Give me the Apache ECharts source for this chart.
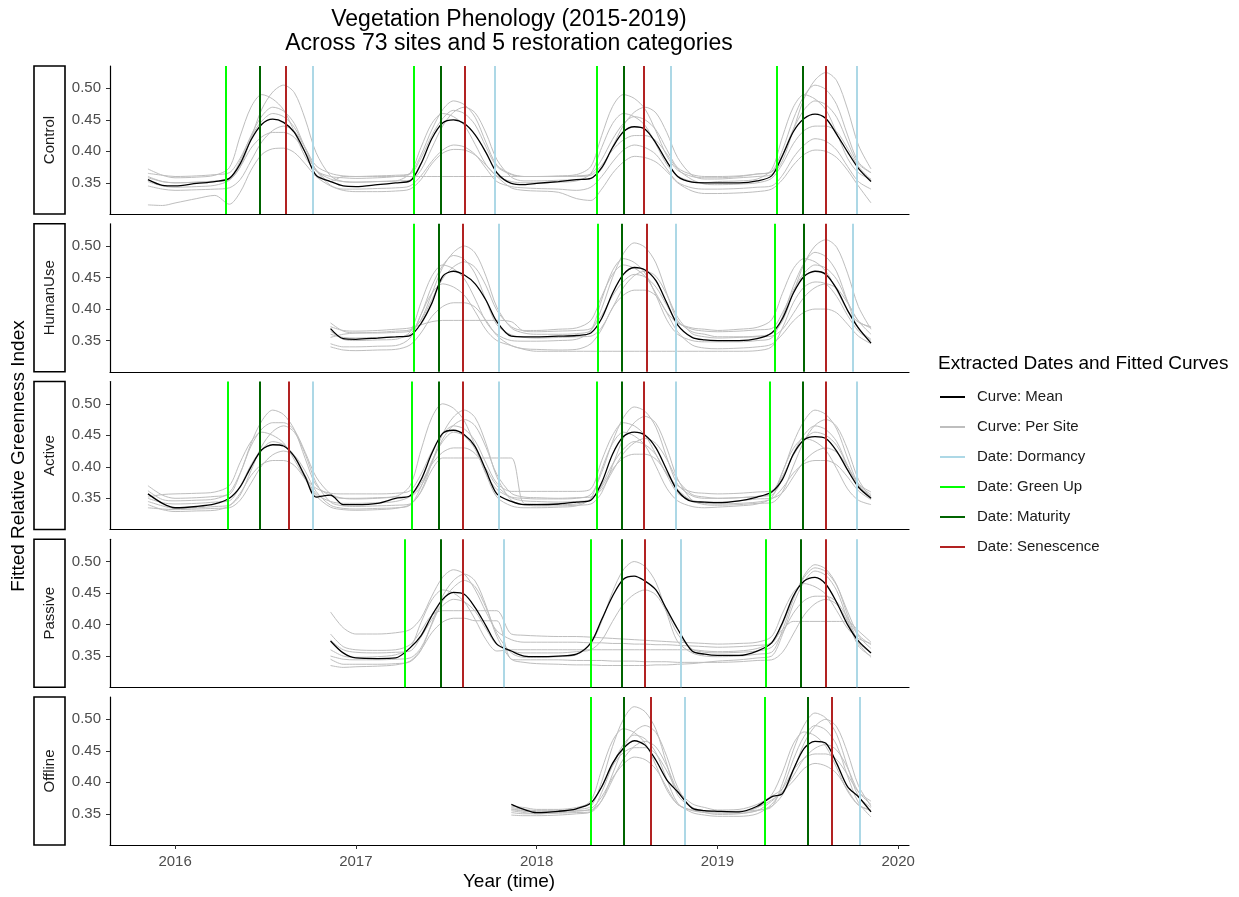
<!DOCTYPE html>
<html>
<head>
<meta charset="utf-8">
<script src="https://cdn.jsdelivr.net/npm/echarts@6/dist/echarts.min.js"></script>
<style>
  html, body { margin: 0; padding: 0; background: #ffffff; }
  #chart { width: 1239px; height: 897px; }
</style>
</head>
<body>
<div id="chart"></div>
<script>
// ---- data -------------------------------------------------------------
const categories = ['Control', 'HumanUse', 'Active', 'Passive', 'Offline'];

// sample times (decimal years) shared by every fitted curve
const sampleTimes = [
  2015.85, 2015.93,
  2016.00, 2016.12, 2016.22, 2016.30, 2016.36, 2016.42, 2016.48, 2016.54, 2016.60, 2016.66, 2016.72, 2016.78, 2016.86, 2016.93,
  2017.00, 2017.12, 2017.22, 2017.30, 2017.36, 2017.42, 2017.48, 2017.54, 2017.60, 2017.66, 2017.72, 2017.78, 2017.86, 2017.93,
  2018.00, 2018.12, 2018.22, 2018.30, 2018.36, 2018.42, 2018.48, 2018.54, 2018.60, 2018.66, 2018.72, 2018.78, 2018.86, 2018.93,
  2019.00, 2019.12, 2019.22, 2019.30, 2019.36, 2019.42, 2019.48, 2019.54, 2019.60, 2019.66, 2019.72, 2019.78, 2019.85
];

// first sample time of each category's record
const recordStart = [2015.85, 2016.86, 2015.85, 2016.86, 2017.86];

const xTickYears = [2016, 2017, 2018, 2019, 2020];
const yTickValues = [0.35, 0.40, 0.45, 0.50];

// mean fitted curve per category
const controlMean = [0.355, 0.346,
  0.345, 0.349, 0.352, 0.357, 0.380, 0.418, 0.443, 0.451, 0.446, 0.430, 0.398, 0.362, 0.352, 0.345,
  0.344, 0.347, 0.350, 0.353, 0.380, 0.420, 0.445, 0.450, 0.444, 0.426, 0.398, 0.366, 0.349, 0.347,
  0.349, 0.352, 0.355, 0.357, 0.374, 0.406, 0.431, 0.439, 0.435, 0.413, 0.384, 0.360, 0.351, 0.350,
  0.350, 0.350, 0.353, 0.361, 0.393, 0.431, 0.452, 0.459, 0.452, 0.427, 0.399, 0.373, 0.352];
const humanUseMean = [0.369, 0.353,
  0.352, 0.354, 0.356, 0.358, 0.377, 0.409, 0.452, 0.460, 0.454, 0.440, 0.414, 0.380, 0.357, 0.356,
  0.356, 0.357, 0.358, 0.362, 0.385, 0.425, 0.455, 0.466, 0.462, 0.445, 0.410, 0.375, 0.355, 0.351,
  0.350, 0.350, 0.353, 0.362, 0.385, 0.425, 0.452, 0.460, 0.455, 0.432, 0.398, 0.370, 0.346];
const activeMean = [0.357, 0.342,
  0.335, 0.337, 0.341, 0.350, 0.368, 0.400, 0.427, 0.435, 0.433, 0.416, 0.384, 0.352, 0.355, 0.340,
  0.340, 0.342, 0.350, 0.354, 0.379, 0.421, 0.453, 0.458, 0.451, 0.432, 0.394, 0.357, 0.345, 0.340,
  0.340, 0.341, 0.344, 0.347, 0.375, 0.420, 0.448, 0.455, 0.450, 0.430, 0.395, 0.362, 0.345, 0.344,
  0.343, 0.346, 0.352, 0.360, 0.380, 0.420, 0.443, 0.448, 0.445, 0.425, 0.395, 0.368, 0.350];
const passiveMean = [0.374, 0.355,
  0.347, 0.346, 0.347, 0.363, 0.382, 0.414, 0.440, 0.451, 0.448, 0.427, 0.398, 0.369, 0.358, 0.350,
  0.349, 0.350, 0.353, 0.371, 0.408, 0.445, 0.472, 0.477, 0.469, 0.455, 0.424, 0.393, 0.358, 0.353,
  0.351, 0.351, 0.358, 0.371, 0.403, 0.445, 0.469, 0.475, 0.464, 0.435, 0.400, 0.374, 0.355];
const offlineMean = [0.365, 0.357,
  0.352, 0.354, 0.358, 0.367, 0.393, 0.430, 0.454, 0.466, 0.459, 0.435, 0.404, 0.385, 0.359, 0.355,
  0.354, 0.353, 0.362, 0.377, 0.382, 0.420, 0.454, 0.465, 0.462, 0.430, 0.393, 0.377, 0.353];

// fitted curves of individual sites
const controlSites = [
  [0.372, 0.362,
   0.358, 0.359, 0.362, 0.374, 0.424, 0.470, 0.490, 0.483, 0.466, 0.431, 0.391, 0.369, 0.360, 0.358,
   0.357, 0.358, 0.360, 0.365, 0.394, 0.434, 0.466, 0.480, 0.474, 0.454, 0.414, 0.378, 0.364, 0.360,
   0.360, 0.361, 0.363, 0.376, 0.425, 0.471, 0.490, 0.484, 0.467, 0.432, 0.393, 0.370, 0.360, 0.358,
   0.358, 0.360, 0.364, 0.368, 0.402, 0.451, 0.488, 0.505, 0.498, 0.474, 0.426, 0.383, 0.366],
  [0.360, 0.352,
   0.350, 0.351, 0.352, 0.355, 0.375, 0.421, 0.467, 0.494, 0.505, 0.493, 0.451, 0.398, 0.361, 0.352,
   0.351, 0.352, 0.353, 0.354, 0.370, 0.405, 0.440, 0.462, 0.470, 0.461, 0.429, 0.387, 0.359, 0.353,
   0.353, 0.354, 0.355, 0.357, 0.372, 0.407, 0.441, 0.462, 0.470, 0.461, 0.430, 0.390, 0.362, 0.356,
   0.356, 0.358, 0.360, 0.363, 0.385, 0.434, 0.484, 0.513, 0.525, 0.512, 0.467, 0.410, 0.372],
  [0.315, 0.314,
   0.318, 0.325, 0.330, 0.316, 0.335, 0.370, 0.395, 0.404, 0.405, 0.398, 0.380, 0.360, 0.345, 0.338,
   0.336, 0.336, 0.337, 0.340, 0.355, 0.380, 0.397, 0.403, 0.402, 0.394, 0.378, 0.360, 0.342, 0.338,
   0.337, 0.335, 0.325, 0.322, 0.340, 0.365, 0.383, 0.392, 0.390, 0.383, 0.368, 0.350, 0.337, 0.333,
   0.333, 0.334, 0.336, 0.340, 0.355, 0.378, 0.395, 0.402, 0.400, 0.390, 0.370, 0.345, 0.318],
  [0.365, 0.362,
   0.360, 0.361, 0.363, 0.366, 0.389, 0.423, 0.448, 0.460, 0.455, 0.438, 0.406, 0.377, 0.365, 0.361,
   0.360, 0.361, 0.362, 0.364, 0.389, 0.425, 0.452, 0.465, 0.460, 0.442, 0.407, 0.376, 0.363, 0.360,
   0.360, 0.360, 0.361, 0.364, 0.387, 0.419, 0.444, 0.455, 0.450, 0.434, 0.403, 0.374, 0.363, 0.360,
   0.360, 0.361, 0.364, 0.367, 0.395, 0.435, 0.466, 0.480, 0.474, 0.454, 0.415, 0.380, 0.366],
  [0.352, 0.345,
   0.343, 0.344, 0.346, 0.354, 0.375, 0.405, 0.423, 0.430, 0.430, 0.422, 0.398, 0.371, 0.352, 0.360,
   0.360, 0.360, 0.360, 0.360, 0.360, 0.360, 0.360, 0.360, 0.360, 0.360, 0.360, 0.360, 0.360, 0.360,
   0.360, 0.360, 0.360, 0.362, 0.378, 0.402, 0.418, 0.425, 0.425, 0.417, 0.396, 0.372, 0.355, 0.348,
   0.347, 0.348, 0.350, 0.357, 0.380, 0.412, 0.433, 0.440, 0.440, 0.431, 0.405, 0.376, 0.355],
  [0.345, 0.340,
   0.338, 0.339, 0.340, 0.342, 0.355, 0.385, 0.415, 0.433, 0.440, 0.432, 0.405, 0.370, 0.346, 0.340,
   0.340, 0.341, 0.342, 0.345, 0.361, 0.384, 0.402, 0.410, 0.407, 0.395, 0.373, 0.352, 0.344, 0.342,
   0.341, 0.340, 0.338, 0.343, 0.360, 0.383, 0.402, 0.410, 0.406, 0.395, 0.372, 0.351, 0.342, 0.340,
   0.340, 0.341, 0.343, 0.345, 0.362, 0.390, 0.410, 0.420, 0.416, 0.402, 0.376, 0.352, 0.340],
  [0.358, 0.352,
   0.350, 0.351, 0.353, 0.357, 0.385, 0.425, 0.456, 0.470, 0.464, 0.444, 0.405, 0.370, 0.356, 0.352,
   0.351, 0.352, 0.353, 0.365, 0.406, 0.444, 0.460, 0.455, 0.441, 0.411, 0.379, 0.361, 0.352, 0.350,
   0.350, 0.351, 0.353, 0.365, 0.406, 0.444, 0.460, 0.455, 0.441, 0.411, 0.379, 0.361, 0.352, 0.350,
   0.352, 0.353, 0.356, 0.371, 0.423, 0.470, 0.490, 0.483, 0.466, 0.429, 0.389, 0.366, 0.356]
];
const humanUseSites = [
  [0.378, 0.365,
   0.362, 0.362, 0.363, 0.365, 0.383, 0.424, 0.466, 0.490, 0.500, 0.489, 0.452, 0.403, 0.370, 0.362,
   0.360, 0.360, 0.361, 0.366, 0.401, 0.450, 0.488, 0.505, 0.498, 0.473, 0.425, 0.382, 0.364, 0.360,
   0.356, 0.356, 0.357, 0.361, 0.381, 0.426, 0.472, 0.500, 0.510, 0.498, 0.457, 0.404, 0.368],
  [0.365, 0.352,
   0.350, 0.351, 0.352, 0.364, 0.410, 0.452, 0.470, 0.464, 0.448, 0.416, 0.380, 0.360, 0.350, 0.349,
   0.349, 0.350, 0.352, 0.366, 0.415, 0.461, 0.480, 0.474, 0.457, 0.422, 0.383, 0.360, 0.350, 0.348,
   0.348, 0.348, 0.350, 0.354, 0.388, 0.436, 0.473, 0.490, 0.483, 0.459, 0.412, 0.369, 0.352],
  [0.340, 0.335,
   0.334, 0.335, 0.336, 0.343, 0.362, 0.388, 0.404, 0.410, 0.410, 0.403, 0.382, 0.358, 0.342, 0.337,
   0.336, 0.335, 0.336, 0.345, 0.368, 0.402, 0.422, 0.430, 0.430, 0.421, 0.394, 0.364, 0.343, 0.338,
   0.337, 0.338, 0.340, 0.344, 0.360, 0.381, 0.395, 0.400, 0.400, 0.394, 0.376, 0.357, 0.345],
  [0.372, 0.366,
   0.365, 0.366, 0.368, 0.370, 0.375, 0.380, 0.382, 0.382, 0.382, 0.382, 0.382, 0.382, 0.380, 0.365,
   0.364, 0.365, 0.366, 0.369, 0.390, 0.421, 0.444, 0.455, 0.451, 0.435, 0.406, 0.379, 0.368, 0.365,
   0.364, 0.365, 0.367, 0.369, 0.394, 0.430, 0.457, 0.470, 0.465, 0.447, 0.412, 0.381, 0.370],
  [0.360, 0.355,
   0.354, 0.355, 0.356, 0.360, 0.391, 0.436, 0.469, 0.485, 0.479, 0.456, 0.414, 0.375, 0.359, 0.355,
   0.354, 0.355, 0.356, 0.357, 0.371, 0.402, 0.434, 0.453, 0.460, 0.452, 0.423, 0.387, 0.361, 0.356,
   0.354, 0.355, 0.356, 0.357, 0.368, 0.393, 0.419, 0.434, 0.440, 0.433, 0.410, 0.381, 0.360],
  [0.345, 0.340,
   0.340, 0.341, 0.342, 0.354, 0.391, 0.425, 0.440, 0.435, 0.422, 0.396, 0.367, 0.350, 0.342, 0.336,
   0.333, 0.333, 0.333, 0.333, 0.333, 0.333, 0.333, 0.333, 0.333, 0.333, 0.333, 0.333, 0.333, 0.333,
   0.333, 0.333, 0.334, 0.340, 0.370, 0.410, 0.435, 0.443, 0.440, 0.420, 0.390, 0.365, 0.350],
  [0.355, 0.360,
   0.362, 0.363, 0.365, 0.367, 0.382, 0.415, 0.448, 0.467, 0.475, 0.466, 0.437, 0.398, 0.372, 0.366,
   0.366, 0.368, 0.370, 0.382, 0.420, 0.455, 0.470, 0.465, 0.452, 0.425, 0.395, 0.378, 0.370, 0.368,
   0.366, 0.368, 0.371, 0.383, 0.425, 0.464, 0.480, 0.475, 0.460, 0.430, 0.398, 0.379, 0.372]
];
const activeSites = [
  [0.370, 0.355,
   0.350, 0.351, 0.353, 0.356, 0.389, 0.437, 0.473, 0.490, 0.483, 0.459, 0.413, 0.371, 0.354, 0.350,
   0.350, 0.351, 0.353, 0.370, 0.426, 0.478, 0.500, 0.493, 0.473, 0.433, 0.389, 0.364, 0.352, 0.350,
   0.349, 0.349, 0.350, 0.356, 0.391, 0.440, 0.478, 0.495, 0.488, 0.463, 0.415, 0.372, 0.354, 0.350,
   0.350, 0.351, 0.353, 0.358, 0.391, 0.438, 0.473, 0.490, 0.483, 0.460, 0.414, 0.373, 0.356],
  [0.345, 0.338,
   0.334, 0.335, 0.337, 0.339, 0.355, 0.394, 0.433, 0.456, 0.465, 0.455, 0.420, 0.375, 0.344, 0.338,
   0.337, 0.338, 0.339, 0.341, 0.361, 0.406, 0.452, 0.479, 0.490, 0.478, 0.437, 0.384, 0.347, 0.340,
   0.338, 0.338, 0.339, 0.341, 0.359, 0.402, 0.445, 0.470, 0.480, 0.469, 0.430, 0.381, 0.347, 0.340,
   0.339, 0.340, 0.342, 0.343, 0.360, 0.401, 0.441, 0.466, 0.475, 0.464, 0.428, 0.380, 0.350],
  [0.340, 0.332,
   0.329, 0.330, 0.331, 0.338, 0.358, 0.386, 0.404, 0.410, 0.410, 0.402, 0.380, 0.354, 0.336, 0.332,
   0.331, 0.332, 0.334, 0.340, 0.360, 0.395, 0.414, 0.414, 0.414, 0.414, 0.414, 0.414, 0.414, 0.342,
   0.341, 0.340, 0.341, 0.348, 0.368, 0.396, 0.414, 0.420, 0.420, 0.412, 0.390, 0.364, 0.346, 0.342,
   0.341, 0.342, 0.344, 0.349, 0.366, 0.390, 0.405, 0.410, 0.410, 0.403, 0.384, 0.362, 0.348],
  [0.352, 0.356,
   0.357, 0.358, 0.360, 0.370, 0.407, 0.440, 0.455, 0.450, 0.438, 0.411, 0.382, 0.366, 0.358, 0.357,
   0.357, 0.357, 0.358, 0.362, 0.388, 0.424, 0.452, 0.465, 0.460, 0.441, 0.406, 0.374, 0.361, 0.361,
   0.361, 0.361, 0.361, 0.365, 0.410, 0.450, 0.470, 0.465, 0.450, 0.420, 0.388, 0.370, 0.360, 0.358,
   0.357, 0.358, 0.360, 0.362, 0.385, 0.418, 0.443, 0.455, 0.450, 0.434, 0.402, 0.373, 0.360],
  [0.350, 0.343,
   0.341, 0.342, 0.344, 0.346, 0.369, 0.403, 0.428, 0.440, 0.435, 0.418, 0.386, 0.357, 0.345, 0.342,
   0.342, 0.343, 0.345, 0.353, 0.374, 0.404, 0.423, 0.430, 0.430, 0.421, 0.397, 0.370, 0.351, 0.346,
   0.345, 0.344, 0.345, 0.348, 0.371, 0.404, 0.428, 0.440, 0.435, 0.419, 0.387, 0.358, 0.347, 0.344,
   0.344, 0.346, 0.349, 0.350, 0.359, 0.384, 0.409, 0.424, 0.430, 0.423, 0.401, 0.371, 0.352],
  [0.335, 0.333,
   0.332, 0.333, 0.334, 0.335, 0.347, 0.374, 0.402, 0.419, 0.425, 0.418, 0.393, 0.361, 0.339, 0.334,
   0.333, 0.334, 0.335, 0.339, 0.368, 0.409, 0.440, 0.455, 0.449, 0.428, 0.388, 0.352, 0.338, 0.335,
   0.335, 0.336, 0.338, 0.350, 0.396, 0.437, 0.455, 0.449, 0.434, 0.401, 0.366, 0.346, 0.337, 0.335,
   0.336, 0.338, 0.341, 0.351, 0.392, 0.429, 0.445, 0.440, 0.426, 0.397, 0.365, 0.347, 0.340],
  [0.362, 0.348,
   0.346, 0.347, 0.349, 0.359, 0.390, 0.433, 0.460, 0.470, 0.470, 0.458, 0.423, 0.384, 0.357, 0.350,
   0.349, 0.350, 0.352, 0.353, 0.369, 0.406, 0.444, 0.466, 0.475, 0.465, 0.431, 0.388, 0.358, 0.352,
   0.351, 0.350, 0.351, 0.352, 0.364, 0.393, 0.421, 0.438, 0.445, 0.437, 0.412, 0.379, 0.356, 0.352,
   0.350, 0.351, 0.353, 0.355, 0.382, 0.421, 0.451, 0.465, 0.459, 0.440, 0.402, 0.367, 0.354]
];
const passiveSites = [
  [0.420, 0.395,
   0.385, 0.385, 0.387, 0.392, 0.410, 0.445, 0.475, 0.487, 0.480, 0.455, 0.420, 0.390, 0.376, 0.372,
   0.372, 0.372, 0.372, 0.371, 0.371, 0.370, 0.370, 0.369, 0.369, 0.368, 0.368, 0.367, 0.366, 0.365,
   0.364, 0.365, 0.367, 0.370, 0.400, 0.443, 0.475, 0.490, 0.484, 0.462, 0.421, 0.384, 0.368],
  [0.350, 0.345,
   0.344, 0.344, 0.345, 0.347, 0.363, 0.400, 0.437, 0.459, 0.470, 0.460, 0.427, 0.386, 0.355, 0.348,
   0.348, 0.349, 0.352, 0.370, 0.405, 0.452, 0.487, 0.500, 0.492, 0.467, 0.418, 0.373, 0.355, 0.350,
   0.349, 0.350, 0.353, 0.356, 0.391, 0.440, 0.478, 0.495, 0.488, 0.463, 0.415, 0.372, 0.355],
  [0.375, 0.360,
   0.356, 0.355, 0.356, 0.358, 0.380, 0.408, 0.430, 0.440, 0.436, 0.421, 0.393, 0.368, 0.358, 0.355,
   0.355, 0.355, 0.357, 0.360, 0.375, 0.405, 0.432, 0.448, 0.455, 0.447, 0.420, 0.385, 0.361, 0.356,
   0.355, 0.356, 0.358, 0.364, 0.387, 0.418, 0.438, 0.445, 0.445, 0.436, 0.411, 0.382, 0.362],
  [0.385, 0.365,
   0.360, 0.359, 0.360, 0.368, 0.390, 0.415, 0.422, 0.422, 0.422, 0.422, 0.422, 0.422, 0.385, 0.383,
   0.382, 0.381, 0.381, 0.380, 0.379, 0.378, 0.377, 0.376, 0.375, 0.374, 0.373, 0.372, 0.371, 0.370,
   0.369, 0.370, 0.372, 0.381, 0.418, 0.451, 0.465, 0.460, 0.448, 0.422, 0.394, 0.378, 0.370],
  [0.335, 0.332,
   0.333, 0.334, 0.336, 0.342, 0.360, 0.387, 0.404, 0.410, 0.410, 0.406, 0.406, 0.406, 0.345, 0.344,
   0.344, 0.344, 0.343, 0.343, 0.343, 0.342, 0.342, 0.342, 0.341, 0.341, 0.341, 0.340, 0.340, 0.340,
   0.340, 0.341, 0.343, 0.344, 0.356, 0.385, 0.415, 0.433, 0.440, 0.432, 0.405, 0.370, 0.348],
  [0.360, 0.350,
   0.348, 0.349, 0.352, 0.363, 0.403, 0.439, 0.455, 0.450, 0.436, 0.408, 0.376, 0.358, 0.360, 0.360,
   0.360, 0.360, 0.360, 0.360, 0.360, 0.360, 0.360, 0.360, 0.360, 0.360, 0.360, 0.360, 0.360, 0.358,
   0.357, 0.358, 0.362, 0.372, 0.392, 0.405, 0.405, 0.405, 0.405, 0.405, 0.405, 0.390, 0.372],
  [0.345, 0.337,
   0.337, 0.337, 0.338, 0.341, 0.359, 0.402, 0.445, 0.470, 0.480, 0.469, 0.430, 0.381, 0.345, 0.340,
   0.338, 0.337, 0.336, 0.336, 0.335, 0.335, 0.335, 0.335, 0.335, 0.336, 0.336, 0.337, 0.338, 0.340,
   0.342, 0.344, 0.347, 0.350, 0.384, 0.432, 0.468, 0.485, 0.478, 0.454, 0.408, 0.366, 0.350]
];
const offlineSites = [
  [0.360, 0.357,
   0.355, 0.355, 0.357, 0.362, 0.401, 0.457, 0.500, 0.520, 0.512, 0.484, 0.429, 0.380, 0.360, 0.355,
   0.354, 0.354, 0.356, 0.361, 0.398, 0.451, 0.491, 0.510, 0.502, 0.476, 0.425, 0.378, 0.360],
  [0.355, 0.352,
   0.350, 0.351, 0.352, 0.353, 0.371, 0.413, 0.455, 0.480, 0.490, 0.479, 0.441, 0.392, 0.358, 0.352,
   0.349, 0.350, 0.355, 0.362, 0.380, 0.418, 0.462, 0.489, 0.500, 0.488, 0.447, 0.395, 0.362],
  [0.352, 0.350,
   0.350, 0.352, 0.354, 0.358, 0.377, 0.407, 0.429, 0.440, 0.436, 0.421, 0.392, 0.365, 0.355, 0.352,
   0.351, 0.351, 0.355, 0.370, 0.385, 0.402, 0.422, 0.430, 0.426, 0.414, 0.388, 0.364, 0.355],
  [0.358, 0.355,
   0.353, 0.354, 0.358, 0.371, 0.420, 0.466, 0.485, 0.479, 0.462, 0.427, 0.388, 0.365, 0.356, 0.354,
   0.353, 0.353, 0.360, 0.380, 0.416, 0.461, 0.480, 0.474, 0.457, 0.423, 0.386, 0.364, 0.356],
  [0.362, 0.360,
   0.357, 0.357, 0.360, 0.368, 0.392, 0.426, 0.447, 0.455, 0.455, 0.445, 0.418, 0.387, 0.366, 0.360,
   0.356, 0.357, 0.365, 0.378, 0.390, 0.419, 0.438, 0.445, 0.445, 0.436, 0.412, 0.385, 0.370],
  [0.348, 0.347,
   0.347, 0.348, 0.350, 0.353, 0.384, 0.427, 0.460, 0.475, 0.469, 0.447, 0.405, 0.367, 0.352, 0.348,
   0.346, 0.346, 0.350, 0.365, 0.390, 0.436, 0.473, 0.490, 0.483, 0.459, 0.410, 0.368, 0.345],
  [0.357, 0.354,
   0.353, 0.354, 0.355, 0.356, 0.371, 0.404, 0.437, 0.457, 0.465, 0.456, 0.426, 0.387, 0.360, 0.355,
   0.353, 0.354, 0.360, 0.372, 0.385, 0.410, 0.438, 0.454, 0.460, 0.451, 0.423, 0.385, 0.365]
];

// extracted phenology dates (decimal years), one list per category
const greenUpDates = [
  [2016.281, 2017.317, 2018.332, 2019.329],
  [2017.324, 2018.339, 2019.319],
  [2016.287, 2017.311, 2018.334, 2019.286],
  [2017.271, 2018.302, 2019.272],
  [2018.303, 2019.262]
];
const maturityDates = [
  [2016.468, 2017.470, 2018.476, 2019.473],
  [2017.461, 2018.472, 2019.480],
  [2016.468, 2017.463, 2018.472, 2019.468],
  [2017.466, 2018.468, 2019.465],
  [2018.485, 2019.499]
];
const senescenceDates = [
  [2016.605, 2017.599, 2018.585, 2019.602],
  [2017.594, 2018.610, 2019.602],
  [2016.627, 2017.585, 2018.588, 2019.602],
  [2017.587, 2018.601, 2019.595],
  [2018.628, 2019.630]
];
const dormancyDates = [
  [2016.763, 2017.765, 2018.738, 2019.768],
  [2017.787, 2018.765, 2019.746],
  [2016.763, 2017.793, 2018.765, 2019.773],
  [2017.816, 2018.797, 2019.774],
  [2018.820, 2019.792]
];

// ---- layout & style ---------------------------------------------------
const FONT = '"Liberation Sans", Arial, Helvetica, sans-serif';
const meanCurves = [controlMean, humanUseMean, activeMean, passiveMean, offlineMean];
const siteCurves = [controlSites, humanUseSites, activeSites, passiveSites, offlineSites];

const PLOT_LEFT = 110, PLOT_RIGHT_GAP = 330;
const PANEL_TOP = 66, PANEL_STEP = 157.75, PANEL_H = 148;
const X_MIN = 2015.64, X_MAX = 2020.06;
const Y_MIN = 0.3005, Y_MAX = 0.5354;

const dateLayers = [
  { name: 'Date: Dormancy',   color: '#add8e6', dates: dormancyDates },
  { name: 'Date: Green Up',   color: '#00ff00', dates: greenUpDates },
  { name: 'Date: Maturity',   color: '#006400', dates: maturityDates },
  { name: 'Date: Senescence', color: '#b22222', dates: senescenceDates }
];

function withTimes(values, start) {
  const i0 = sampleTimes.findIndex(t => Math.abs(t - start) < 1e-9);
  return values.map((v, i) => [sampleTimes[i0 + i], v]);
}

const grids = [], xAxes = [], yAxes = [], series = [], graphics = [];

categories.forEach((cat, p) => {
  const top = PANEL_TOP + p * PANEL_STEP;
  const isBottom = p === categories.length - 1;
  grids.push({ left: PLOT_LEFT, right: PLOT_RIGHT_GAP, top: top, height: PANEL_H });

  xAxes.push({
    gridIndex: p, type: 'value', min: X_MIN, max: X_MAX,
    axisLine: { show: true, onZero: false, lineStyle: { color: '#000', width: 1.2 } },
    axisTick: { show: isBottom, length: 4, customValues: xTickYears, lineStyle: { color: '#333' } },
    axisLabel: {
      show: isBottom, customValues: xTickYears, margin: 9,
      color: '#4d4d4d', fontSize: 15, fontFamily: FONT,
      formatter: v => String(Math.round(v))
    },
    splitLine: { show: false }
  });

  yAxes.push({
    gridIndex: p, type: 'value', min: Y_MIN, max: Y_MAX,
    axisLine: { show: true, lineStyle: { color: '#000', width: 1.2 } },
    axisTick: { show: true, length: 4, customValues: yTickValues, lineStyle: { color: '#333' } },
    axisLabel: {
      customValues: yTickValues, margin: 9,
      color: '#4d4d4d', fontSize: 15, fontFamily: FONT,
      formatter: v => v.toFixed(2)
    },
    splitLine: { show: false }
  });

  siteCurves[p].forEach(curve => {
    series.push({
      type: 'line', name: 'Curve: Per Site', xAxisIndex: p, yAxisIndex: p,
      data: withTimes(curve, recordStart[p]),
      showSymbol: false, smooth: 0.3, silent: true, z: 1,
      lineStyle: { color: '#bebebe', width: 1 }, itemStyle: { color: '#bebebe' }
    });
  });

  dateLayers.forEach(layer => {
    series.push({
      type: 'line', name: layer.name, xAxisIndex: p, yAxisIndex: p,
      data: [], silent: true, z: 2,
      lineStyle: { color: layer.color }, itemStyle: { color: layer.color },
      markLine: {
        silent: true, symbol: ['none', 'none'], animation: false,
        label: { show: false },
        lineStyle: { color: layer.color, width: 2, type: 'solid' },
        emphasis: { disabled: true },
        data: layer.dates[p].map(t => ({ xAxis: t }))
      }
    });
  });

  series.push({
    type: 'line', name: 'Curve: Mean', xAxisIndex: p, yAxisIndex: p,
    data: withTimes(meanCurves[p], recordStart[p]),
    showSymbol: false, smooth: 0.3, silent: true, z: 3,
    lineStyle: { color: '#000', width: 1.3 }, itemStyle: { color: '#000' }
  });

  // facet strip on the left
  graphics.push({
    type: 'rect', shape: { x: 34, y: top, width: 31, height: PANEL_H },
    style: { fill: '#fff', stroke: '#000', lineWidth: 1.6 }, silent: true
  });
  graphics.push({
    type: 'text', x: 49.5, y: top + PANEL_H / 2, rotation: Math.PI / 2,
    style: {
      text: cat, fill: '#1a1a1a', font: '15px ' + FONT,
      textAlign: 'center', textVerticalAlign: 'middle', align: 'center', verticalAlign: 'middle'
    }, silent: true
  });
});

function label(text, x, y, size, extra) {
  return Object.assign({
    type: 'text', x: x, y: y, silent: true,
    style: {
      text: text, fill: '#000', font: size + 'px ' + FONT,
      textAlign: 'center', textVerticalAlign: 'middle', align: 'center', verticalAlign: 'middle'
    }
  }, extra || {});
}

graphics.push(label('Vegetation Phenology (2015-2019)', 509, 19.5, 23));
graphics.push(label('Across 73 sites and 5 restoration categories', 509, 43.5, 23));
graphics.push(label('Year (time)', 509, 882, 19));
graphics.push(label('Fitted Relative Greenness Index', 19, 456, 19, { rotation: Math.PI / 2 }));
const legendTitle = label('Extracted Dates and Fitted Curves', 938, 364, 19);
legendTitle.style.textAlign = 'left'; legendTitle.style.align = 'left';
graphics.push(legendTitle);

const chart = echarts.init(document.getElementById('chart'), null, { renderer: 'canvas' });
chart.setOption({
  animation: false,
  backgroundColor: '#ffffff',
  grid: grids,
  xAxis: xAxes,
  yAxis: yAxes,
  series: series,
  legend: {
    orient: 'vertical', left: 940, top: 389, padding: 0,
    icon: 'rect', itemWidth: 25, itemHeight: 2, itemGap: 14,
    selectedMode: false,
    textStyle: { fontSize: 15, color: '#1a1a1a', fontFamily: FONT, lineHeight: 16, padding: [0, 0, 0, 7] },
    data: ['Curve: Mean', 'Curve: Per Site', 'Date: Dormancy', 'Date: Green Up', 'Date: Maturity', 'Date: Senescence']
  },
  graphic: { elements: graphics }
});
</script>
</body>
</html>
